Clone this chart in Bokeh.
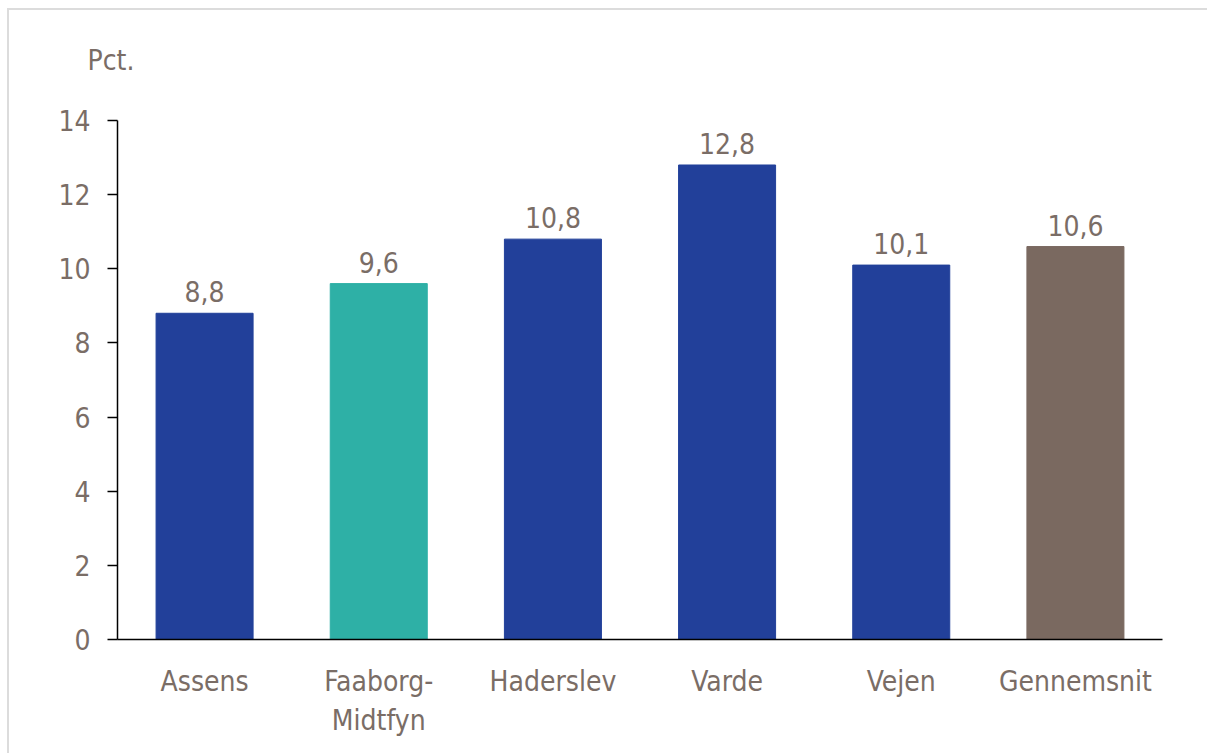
from bokeh.plotting import figure
from bokeh.models import ColumnDataSource, LabelSet, FixedTicker, Title
from bokeh.core.properties import value
from bokeh.embed import file_html
from bokeh.resources import INLINE

categories = ["Assens", "Faaborg-\nMidtfyn", "Haderslev", "Varde", "Vejen", "Gennemsnit"]
values = [8.8, 9.6, 10.8, 12.8, 10.1, 10.6]
colors = ["#22409A", "#2EB0A6", "#22409A", "#22409A", "#22409A", "#7A6960"]
y_ticks = [0, 2, 4, 6, 8, 10, 12, 14]
labels = [f"{v:.1f}".replace(".", ",") for v in values]

FONT = "'DejaVu Sans Condensed', 'DejaVu Sans', sans-serif"
TXT = "#7A6D66"

src = ColumnDataSource(dict(cat=categories, val=values, col=colors, lab=labels))

p = figure(x_range=categories, y_range=(0, 14), width=1200, height=745,
           output_backend="svg", toolbar_location=None, title="Pct.",
           min_border_left=108, min_border_right=47, min_border_top=110, min_border_bottom=116,
           margin=(8, 0, 0, 7),
           styles={"border-left": "2px solid #DCDCDC", "border-top": "2px solid #DCDCDC",
                   "border-right": "0px", "border-bottom": "0px"})
p.x_range.range_padding = 0
p.outline_line_color = None
p.grid.grid_line_color = None
p.background_fill_color = "white"
p.border_fill_color = "white"

# spacer title nearest the frame
p.add_layout(Title(text=" ", text_font_size="1px", standoff=11), "above")

p.title.align = "left"
p.title.offset = -30
p.title.standoff = 60
p.title.text_font = FONT
p.title.text_font_size = "28px"
p.title.text_font_style = "normal"
p.title.text_color = TXT

p.vbar(x="cat", top="val", width=0.557, color="col", source=src)

p.add_layout(LabelSet(x="cat", y="val", text="lab", source=src, text_align="center",
                      text_baseline="bottom", y_offset=11, text_font=value(FONT),
                      text_font_size=value("28px"), text_color=value(TXT)))

p.yaxis.ticker = FixedTicker(ticks=y_ticks)
p.yaxis.major_tick_out = 10
p.yaxis.major_tick_in = 0
p.yaxis.minor_tick_line_color = None
p.yaxis.axis_line_color = "black"
p.yaxis.axis_line_width = 1.5
p.yaxis.major_tick_line_color = "black"
p.yaxis.major_tick_line_width = 1.5
p.yaxis.major_label_text_font = FONT
p.yaxis.major_label_text_font_size = "28px"
p.yaxis.major_label_text_color = TXT
p.yaxis.major_label_standoff = 17

p.xaxis.major_tick_line_color = None
p.xaxis.minor_tick_line_color = None
p.xaxis.axis_line_color = "black"
p.xaxis.axis_line_width = 1.5
p.xaxis.major_label_text_font = FONT
p.xaxis.major_label_text_font_size = "28px"
p.xaxis.major_label_text_color = TXT
p.xaxis.major_label_standoff = 19

open("out.html", "w").write(file_html(p, INLINE))
